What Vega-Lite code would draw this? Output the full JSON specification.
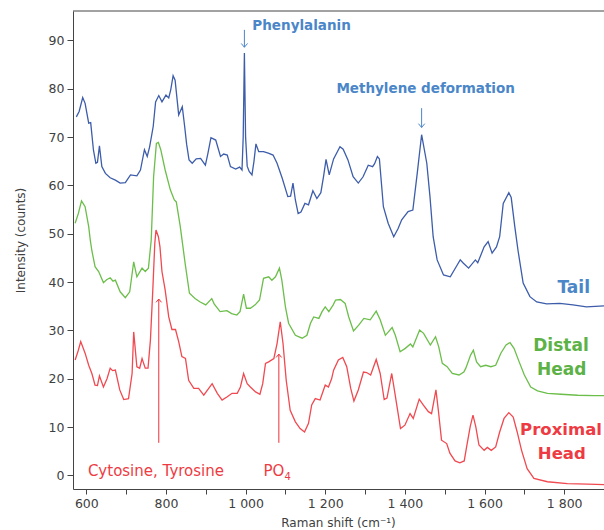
{
 "$schema": "https://vega.github.io/schema/vega-lite/v6.json",
 "width": 531,
 "height": 478,
 "autosize": "none",
 "padding": {"left": 73, "top": 11, "right": 0, "bottom": 41},
 "config": {"view": {"stroke": null}, "font": "DejaVu Sans"},
 "datasets": {
  "spectra": [
   {"s":"Tail","x":575,"y":74.2},{"s":"Tail","x":582,"y":75.3},{"s":"Tail","x":591,"y":78.2},{"s":"Tail","x":597,"y":77.0},{"s":"Tail","x":606,"y":72.9},{"s":"Tail","x":611,"y":73.0},{"s":"Tail","x":618,"y":67.3},{"s":"Tail","x":624,"y":64.6},{"s":"Tail","x":628,"y":64.8},{"s":"Tail","x":633,"y":68.2},{"s":"Tail","x":639,"y":63.9},{"s":"Tail","x":648,"y":62.5},{"s":"Tail","x":660,"y":61.6},{"s":"Tail","x":673,"y":61.1},{"s":"Tail","x":685,"y":60.5},{"s":"Tail","x":698,"y":60.6},{"s":"Tail","x":711,"y":62.2},{"s":"Tail","x":727,"y":62.0},{"s":"Tail","x":736,"y":63.2},{"s":"Tail","x":746,"y":67.4},{"s":"Tail","x":753,"y":66.0},{"s":"Tail","x":759,"y":68.0},{"s":"Tail","x":768,"y":72.2},{"s":"Tail","x":774,"y":77.3},{"s":"Tail","x":782,"y":78.6},{"s":"Tail","x":790,"y":77.3},{"s":"Tail","x":800,"y":78.7},{"s":"Tail","x":807,"y":78.1},{"s":"Tail","x":812,"y":79.8},{"s":"Tail","x":818,"y":82.7},{"s":"Tail","x":823,"y":81.8},{"s":"Tail","x":832,"y":74.6},{"s":"Tail","x":841,"y":76.3},{"s":"Tail","x":847,"y":72.2},{"s":"Tail","x":852,"y":68.5},{"s":"Tail","x":858,"y":65.3},{"s":"Tail","x":866,"y":64.6},{"s":"Tail","x":876,"y":65.5},{"s":"Tail","x":887,"y":65.6},{"s":"Tail","x":899,"y":64.2},{"s":"Tail","x":905,"y":66.5},{"s":"Tail","x":913,"y":69.9},{"s":"Tail","x":925,"y":69.4},{"s":"Tail","x":937,"y":66.0},{"s":"Tail","x":945,"y":66.5},{"s":"Tail","x":954,"y":66.3},{"s":"Tail","x":962,"y":63.9},{"s":"Tail","x":975,"y":63.4},{"s":"Tail","x":985,"y":63.8},{"s":"Tail","x":991,"y":63.2},{"s":"Tail","x":994,"y":70.0},{"s":"Tail","x":997,"y":87.4},{"s":"Tail","x":1000,"y":70.0},{"s":"Tail","x":1004,"y":64.0},{"s":"Tail","x":1009,"y":62.9},{"s":"Tail","x":1016,"y":62.2},{"s":"Tail","x":1021,"y":65.0},{"s":"Tail","x":1026,"y":68.6},{"s":"Tail","x":1033,"y":67.0},{"s":"Tail","x":1045,"y":67.0},{"s":"Tail","x":1057,"y":66.7},{"s":"Tail","x":1069,"y":66.3},{"s":"Tail","x":1079,"y":64.6},{"s":"Tail","x":1092,"y":61.5},{"s":"Tail","x":1106,"y":57.7},{"s":"Tail","x":1113,"y":57.8},{"s":"Tail","x":1119,"y":60.5},{"s":"Tail","x":1125,"y":57.0},{"s":"Tail","x":1132,"y":54.2},{"s":"Tail","x":1139,"y":54.5},{"s":"Tail","x":1149,"y":56.3},{"s":"Tail","x":1158,"y":56.0},{"s":"Tail","x":1169,"y":58.9},{"s":"Tail","x":1179,"y":57.3},{"s":"Tail","x":1189,"y":58.5},{"s":"Tail","x":1196,"y":62.0},{"s":"Tail","x":1202,"y":65.4},{"s":"Tail","x":1210,"y":62.2},{"s":"Tail","x":1221,"y":65.5},{"s":"Tail","x":1237,"y":68.0},{"s":"Tail","x":1245,"y":67.5},{"s":"Tail","x":1257,"y":65.3},{"s":"Tail","x":1270,"y":61.8},{"s":"Tail","x":1283,"y":60.5},{"s":"Tail","x":1295,"y":61.8},{"s":"Tail","x":1308,"y":64.2},{"s":"Tail","x":1319,"y":63.9},{"s":"Tail","x":1324,"y":64.5},{"s":"Tail","x":1331,"y":66.0},{"s":"Tail","x":1336,"y":65.5},{"s":"Tail","x":1346,"y":55.6},{"s":"Tail","x":1358,"y":52.2},{"s":"Tail","x":1372,"y":49.4},{"s":"Tail","x":1383,"y":51.1},{"s":"Tail","x":1392,"y":52.9},{"s":"Tail","x":1408,"y":54.6},{"s":"Tail","x":1420,"y":54.9},{"s":"Tail","x":1431,"y":62.5},{"s":"Tail","x":1442,"y":70.5},{"s":"Tail","x":1455,"y":64.6},{"s":"Tail","x":1463,"y":57.7},{"s":"Tail","x":1471,"y":49.4},{"s":"Tail","x":1481,"y":44.6},{"s":"Tail","x":1497,"y":41.5},{"s":"Tail","x":1514,"y":41.1},{"s":"Tail","x":1531,"y":43.5},{"s":"Tail","x":1539,"y":44.6},{"s":"Tail","x":1547,"y":43.9},{"s":"Tail","x":1560,"y":42.9},{"s":"Tail","x":1577,"y":44.6},{"s":"Tail","x":1583,"y":44.0},{"s":"Tail","x":1599,"y":47.3},{"s":"Tail","x":1609,"y":48.4},{"s":"Tail","x":1619,"y":46.0},{"s":"Tail","x":1630,"y":47.3},{"s":"Tail","x":1638,"y":49.4},{"s":"Tail","x":1647,"y":56.3},{"s":"Tail","x":1661,"y":58.5},{"s":"Tail","x":1667,"y":57.5},{"s":"Tail","x":1676,"y":51.5},{"s":"Tail","x":1684,"y":46.6},{"s":"Tail","x":1697,"y":39.8},{"s":"Tail","x":1714,"y":37.0},{"s":"Tail","x":1731,"y":35.9},{"s":"Tail","x":1756,"y":35.5},{"s":"Tail","x":1789,"y":35.6},{"s":"Tail","x":1822,"y":35.3},{"s":"Tail","x":1856,"y":34.9},{"s":"Tail","x":1900,"y":35.1},
   {"s":"Distal Head","x":572,"y":52.2},{"s":"Distal Head","x":580,"y":54.2},{"s":"Distal Head","x":588,"y":56.8},{"s":"Distal Head","x":597,"y":55.6},{"s":"Distal Head","x":606,"y":51.5},{"s":"Distal Head","x":610,"y":48.7},{"s":"Distal Head","x":614,"y":46.5},{"s":"Distal Head","x":622,"y":43.2},{"s":"Distal Head","x":631,"y":42.2},{"s":"Distal Head","x":643,"y":39.9},{"s":"Distal Head","x":651,"y":40.5},{"s":"Distal Head","x":660,"y":40.9},{"s":"Distal Head","x":667,"y":40.2},{"s":"Distal Head","x":673,"y":40.4},{"s":"Distal Head","x":685,"y":38.0},{"s":"Distal Head","x":698,"y":36.8},{"s":"Distal Head","x":709,"y":38.0},{"s":"Distal Head","x":719,"y":44.2},{"s":"Distal Head","x":727,"y":41.1},{"s":"Distal Head","x":740,"y":42.9},{"s":"Distal Head","x":748,"y":42.2},{"s":"Distal Head","x":756,"y":42.9},{"s":"Distal Head","x":763,"y":48.7},{"s":"Distal Head","x":769,"y":61.8},{"s":"Distal Head","x":776,"y":68.7},{"s":"Distal Head","x":781,"y":68.9},{"s":"Distal Head","x":787,"y":67.4},{"s":"Distal Head","x":798,"y":63.2},{"s":"Distal Head","x":811,"y":59.1},{"s":"Distal Head","x":821,"y":57.0},{"s":"Distal Head","x":826,"y":56.6},{"s":"Distal Head","x":836,"y":51.5},{"s":"Distal Head","x":848,"y":44.0},{"s":"Distal Head","x":859,"y":37.7},{"s":"Distal Head","x":873,"y":36.6},{"s":"Distal Head","x":886,"y":35.9},{"s":"Distal Head","x":900,"y":35.3},{"s":"Distal Head","x":915,"y":36.6},{"s":"Distal Head","x":921,"y":35.5},{"s":"Distal Head","x":936,"y":33.9},{"s":"Distal Head","x":953,"y":34.1},{"s":"Distal Head","x":965,"y":33.5},{"s":"Distal Head","x":978,"y":33.2},{"s":"Distal Head","x":986,"y":33.9},{"s":"Distal Head","x":995,"y":37.5},{"s":"Distal Head","x":1002,"y":34.6},{"s":"Distal Head","x":1012,"y":34.6},{"s":"Distal Head","x":1024,"y":35.3},{"s":"Distal Head","x":1035,"y":36.3},{"s":"Distal Head","x":1045,"y":40.8},{"s":"Distal Head","x":1058,"y":41.1},{"s":"Distal Head","x":1066,"y":40.4},{"s":"Distal Head","x":1075,"y":41.1},{"s":"Distal Head","x":1085,"y":42.9},{"s":"Distal Head","x":1091,"y":40.4},{"s":"Distal Head","x":1100,"y":34.9},{"s":"Distal Head","x":1108,"y":31.5},{"s":"Distal Head","x":1125,"y":29.0},{"s":"Distal Head","x":1142,"y":28.4},{"s":"Distal Head","x":1154,"y":29.0},{"s":"Distal Head","x":1163,"y":31.5},{"s":"Distal Head","x":1171,"y":32.8},{"s":"Distal Head","x":1184,"y":32.5},{"s":"Distal Head","x":1192,"y":33.9},{"s":"Distal Head","x":1200,"y":34.9},{"s":"Distal Head","x":1209,"y":33.9},{"s":"Distal Head","x":1220,"y":35.3},{"s":"Distal Head","x":1226,"y":36.3},{"s":"Distal Head","x":1238,"y":36.4},{"s":"Distal Head","x":1250,"y":35.6},{"s":"Distal Head","x":1259,"y":32.8},{"s":"Distal Head","x":1271,"y":29.9},{"s":"Distal Head","x":1284,"y":31.1},{"s":"Distal Head","x":1297,"y":32.5},{"s":"Distal Head","x":1313,"y":32.2},{"s":"Distal Head","x":1328,"y":34.0},{"s":"Distal Head","x":1338,"y":32.2},{"s":"Distal Head","x":1351,"y":29.0},{"s":"Distal Head","x":1368,"y":30.6},{"s":"Distal Head","x":1376,"y":29.0},{"s":"Distal Head","x":1388,"y":25.6},{"s":"Distal Head","x":1401,"y":26.3},{"s":"Distal Head","x":1414,"y":27.2},{"s":"Distal Head","x":1420,"y":26.6},{"s":"Distal Head","x":1437,"y":30.1},{"s":"Distal Head","x":1447,"y":29.4},{"s":"Distal Head","x":1464,"y":27.0},{"s":"Distal Head","x":1477,"y":28.7},{"s":"Distal Head","x":1485,"y":26.6},{"s":"Distal Head","x":1494,"y":23.2},{"s":"Distal Head","x":1506,"y":22.5},{"s":"Distal Head","x":1519,"y":21.1},{"s":"Distal Head","x":1536,"y":20.8},{"s":"Distal Head","x":1548,"y":21.4},{"s":"Distal Head","x":1553,"y":22.2},{"s":"Distal Head","x":1565,"y":24.9},{"s":"Distal Head","x":1572,"y":25.9},{"s":"Distal Head","x":1580,"y":23.5},{"s":"Distal Head","x":1590,"y":22.5},{"s":"Distal Head","x":1603,"y":22.8},{"s":"Distal Head","x":1616,"y":22.5},{"s":"Distal Head","x":1628,"y":22.8},{"s":"Distal Head","x":1641,"y":25.3},{"s":"Distal Head","x":1654,"y":27.0},{"s":"Distal Head","x":1664,"y":27.5},{"s":"Distal Head","x":1674,"y":26.3},{"s":"Distal Head","x":1687,"y":23.5},{"s":"Distal Head","x":1700,"y":20.8},{"s":"Distal Head","x":1716,"y":18.3},{"s":"Distal Head","x":1733,"y":17.5},{"s":"Distal Head","x":1758,"y":17.0},{"s":"Distal Head","x":1792,"y":16.8},{"s":"Distal Head","x":1834,"y":16.6},{"s":"Distal Head","x":1875,"y":16.5},{"s":"Distal Head","x":1900,"y":16.5},
   {"s":"Proximal Head","x":572,"y":23.9},{"s":"Proximal Head","x":580,"y":25.9},{"s":"Proximal Head","x":586,"y":27.7},{"s":"Proximal Head","x":597,"y":25.3},{"s":"Proximal Head","x":606,"y":22.8},{"s":"Proximal Head","x":614,"y":21.1},{"s":"Proximal Head","x":622,"y":18.7},{"s":"Proximal Head","x":628,"y":18.6},{"s":"Proximal Head","x":633,"y":20.6},{"s":"Proximal Head","x":643,"y":18.3},{"s":"Proximal Head","x":652,"y":20.0},{"s":"Proximal Head","x":660,"y":22.2},{"s":"Proximal Head","x":666,"y":21.7},{"s":"Proximal Head","x":673,"y":21.8},{"s":"Proximal Head","x":684,"y":17.7},{"s":"Proximal Head","x":694,"y":15.7},{"s":"Proximal Head","x":706,"y":15.9},{"s":"Proximal Head","x":715,"y":21.1},{"s":"Proximal Head","x":719,"y":29.7},{"s":"Proximal Head","x":727,"y":22.5},{"s":"Proximal Head","x":734,"y":22.2},{"s":"Proximal Head","x":740,"y":24.2},{"s":"Proximal Head","x":748,"y":22.2},{"s":"Proximal Head","x":755,"y":22.2},{"s":"Proximal Head","x":761,"y":28.0},{"s":"Proximal Head","x":767,"y":38.4},{"s":"Proximal Head","x":772,"y":48.0},{"s":"Proximal Head","x":775,"y":50.8},{"s":"Proximal Head","x":781,"y":49.4},{"s":"Proximal Head","x":785,"y":47.3},{"s":"Proximal Head","x":790,"y":42.2},{"s":"Proximal Head","x":798,"y":38.4},{"s":"Proximal Head","x":807,"y":32.8},{"s":"Proximal Head","x":815,"y":30.2},{"s":"Proximal Head","x":824,"y":30.2},{"s":"Proximal Head","x":832,"y":27.7},{"s":"Proximal Head","x":840,"y":24.6},{"s":"Proximal Head","x":849,"y":24.2},{"s":"Proximal Head","x":857,"y":19.7},{"s":"Proximal Head","x":870,"y":18.0},{"s":"Proximal Head","x":882,"y":18.0},{"s":"Proximal Head","x":895,"y":16.6},{"s":"Proximal Head","x":916,"y":19.0},{"s":"Proximal Head","x":929,"y":17.0},{"s":"Proximal Head","x":941,"y":15.6},{"s":"Proximal Head","x":954,"y":16.3},{"s":"Proximal Head","x":966,"y":17.0},{"s":"Proximal Head","x":979,"y":17.0},{"s":"Proximal Head","x":987,"y":18.3},{"s":"Proximal Head","x":995,"y":21.1},{"s":"Proximal Head","x":1004,"y":19.0},{"s":"Proximal Head","x":1012,"y":18.3},{"s":"Proximal Head","x":1025,"y":17.3},{"s":"Proximal Head","x":1036,"y":16.8},{"s":"Proximal Head","x":1043,"y":19.0},{"s":"Proximal Head","x":1050,"y":23.2},{"s":"Proximal Head","x":1058,"y":23.5},{"s":"Proximal Head","x":1071,"y":24.2},{"s":"Proximal Head","x":1079,"y":27.3},{"s":"Proximal Head","x":1087,"y":31.8},{"s":"Proximal Head","x":1094,"y":27.3},{"s":"Proximal Head","x":1102,"y":19.7},{"s":"Proximal Head","x":1112,"y":13.5},{"s":"Proximal Head","x":1125,"y":11.1},{"s":"Proximal Head","x":1137,"y":9.7},{"s":"Proximal Head","x":1148,"y":9.0},{"s":"Proximal Head","x":1158,"y":10.8},{"s":"Proximal Head","x":1166,"y":14.6},{"s":"Proximal Head","x":1175,"y":15.9},{"s":"Proximal Head","x":1187,"y":15.6},{"s":"Proximal Head","x":1200,"y":18.7},{"s":"Proximal Head","x":1208,"y":18.3},{"s":"Proximal Head","x":1216,"y":20.0},{"s":"Proximal Head","x":1221,"y":21.8},{"s":"Proximal Head","x":1233,"y":23.9},{"s":"Proximal Head","x":1244,"y":24.4},{"s":"Proximal Head","x":1254,"y":22.5},{"s":"Proximal Head","x":1264,"y":18.0},{"s":"Proximal Head","x":1272,"y":15.4},{"s":"Proximal Head","x":1283,"y":17.7},{"s":"Proximal Head","x":1296,"y":21.4},{"s":"Proximal Head","x":1304,"y":21.3},{"s":"Proximal Head","x":1314,"y":20.8},{"s":"Proximal Head","x":1328,"y":24.0},{"s":"Proximal Head","x":1338,"y":21.1},{"s":"Proximal Head","x":1348,"y":15.7},{"s":"Proximal Head","x":1355,"y":16.0},{"s":"Proximal Head","x":1367,"y":21.1},{"s":"Proximal Head","x":1375,"y":17.0},{"s":"Proximal Head","x":1389,"y":9.7},{"s":"Proximal Head","x":1400,"y":10.4},{"s":"Proximal Head","x":1413,"y":12.8},{"s":"Proximal Head","x":1421,"y":11.8},{"s":"Proximal Head","x":1436,"y":15.8},{"s":"Proximal Head","x":1446,"y":14.6},{"s":"Proximal Head","x":1459,"y":13.2},{"s":"Proximal Head","x":1467,"y":12.8},{"s":"Proximal Head","x":1478,"y":17.7},{"s":"Proximal Head","x":1484,"y":13.5},{"s":"Proximal Head","x":1492,"y":7.3},{"s":"Proximal Head","x":1505,"y":6.6},{"s":"Proximal Head","x":1513,"y":4.6},{"s":"Proximal Head","x":1526,"y":3.0},{"s":"Proximal Head","x":1538,"y":2.6},{"s":"Proximal Head","x":1549,"y":3.0},{"s":"Proximal Head","x":1555,"y":5.9},{"s":"Proximal Head","x":1564,"y":10.1},{"s":"Proximal Head","x":1571,"y":12.5},{"s":"Proximal Head","x":1578,"y":10.1},{"s":"Proximal Head","x":1586,"y":6.3},{"s":"Proximal Head","x":1599,"y":5.2},{"s":"Proximal Head","x":1607,"y":5.8},{"s":"Proximal Head","x":1617,"y":5.2},{"s":"Proximal Head","x":1628,"y":5.9},{"s":"Proximal Head","x":1638,"y":9.0},{"s":"Proximal Head","x":1649,"y":11.8},{"s":"Proximal Head","x":1661,"y":13.0},{"s":"Proximal Head","x":1672,"y":12.1},{"s":"Proximal Head","x":1682,"y":9.0},{"s":"Proximal Head","x":1693,"y":5.2},{"s":"Proximal Head","x":1707,"y":1.4},{"s":"Proximal Head","x":1724,"y":-0.6},{"s":"Proximal Head","x":1758,"y":-1.3},{"s":"Proximal Head","x":1808,"y":-1.7},{"s":"Proximal Head","x":1859,"y":-1.8},{"s":"Proximal Head","x":1900,"y":-1.9}
  ]
 },
 "layer": [
  {
   "data": {"name": "spectra"},
   "mark": {"type": "line", "strokeWidth": 1.3, "clip": true},
   "encoding": {
    "x": {"field": "x", "type": "quantitative",
     "scale": {"domain": [566.6, 1900], "nice": false, "zero": false},
     "axis": {"values": [600,700,800,900,1000,1100,1200,1300,1400,1500,1600,1700,1800],
      "labelExpr": "datum.value % 200 == 0 ? replace(format(datum.value, ','), ',', ' ') : ''",
      "title": "Raman shift (cm⁻¹)", "grid": false, "domainColor": "#444", "tickColor": "#444", "tickSize": 5,
      "labelFont": "DejaVu Sans", "labelFontSize": 12.5, "labelColor": "#404040", "labelPadding": 3, "labelOverlap": false, "labelBound": false, "labelFlush": false,
      "titleFont": "DejaVu Sans", "titleFontSize": 12, "titleFontWeight": "normal", "titleColor": "#404040",
      "titleX": 265, "titleY": 33, "titleBaseline": "middle", "titleAlign": "center"}},
    "y": {"field": "y", "type": "quantitative",
     "scale": {"domain": [-2.8, 96.1], "nice": false, "zero": false},
     "axis": {"values": [0,5,10,15,20,25,30,35,40,45,50,55,60,65,70,75,80,85,90,95],
      "labelExpr": "datum.value % 10 == 0 ? datum.label : ''",
      "title": "Intensity (counts)", "grid": false, "domainColor": "#444", "tickColor": "#444", "tickSize": 6,
      "labelFont": "DejaVu Sans", "labelFontSize": 12.5, "labelColor": "#404040", "labelPadding": 3, "labelOverlap": false,
      "titleFont": "DejaVu Sans", "titleFontSize": 12, "titleFontWeight": "normal", "titleColor": "#404040",
      "titleX": -53, "titleY": 229, "titleAngle": -90, "titleBaseline": "middle", "titleAlign": "center"}},
    "color": {"field": "s", "type": "nominal",
     "scale": {"domain": ["Tail", "Distal Head", "Proximal Head"], "range": ["#3D5DAA", "#6CBE4B", "#F04950"]},
     "legend": null}
   }
  },
  {"data": {"values": [{}]}, "mark": {"type": "rule", "color": "#444", "strokeWidth": 1}, "encoding": {"y": {"datum": 96.1}}},
  {"data": {"values": [{}]}, "mark": {"type": "text", "align": "left", "baseline": "middle", "font": "DejaVu Sans", "fontWeight": "bold", "fontSize": 13.5, "color": "#4A86C8"}, "encoding": {"x": {"datum": 1017}, "y": {"datum": 93}, "text": {"value": "Phenylalanin"}}},
  {"data": {"values": [{}]}, "mark": {"type": "text", "align": "left", "baseline": "middle", "font": "DejaVu Sans", "fontWeight": "bold", "fontSize": 13.5, "color": "#4A86C8"}, "encoding": {"x": {"datum": 1228}, "y": {"datum": 80}, "text": {"value": "Methylene deformation"}}},
  {"data": {"values": [{}]}, "mark": {"type": "rule", "color": "#4A86C8", "strokeWidth": 1}, "encoding": {"x": {"datum": 997}, "y": {"datum": 92.2}, "y2": {"datum": 88.6}}},
  {"data": {"values": [{}]}, "mark": {"type": "point", "shape": "M-1,-1.2L0,0L1,-1.2", "size": 40, "filled": false, "strokeWidth": 1, "color": "#4A86C8", "opacity": 1}, "encoding": {"x": {"datum": 997}, "y": {"datum": 88.6}}},
  {"data": {"values": [{}]}, "mark": {"type": "rule", "color": "#4A86C8", "strokeWidth": 1}, "encoding": {"x": {"datum": 1442}, "y": {"datum": 76.0}, "y2": {"datum": 72.0}}},
  {"data": {"values": [{}]}, "mark": {"type": "point", "shape": "M-1,-1.2L0,0L1,-1.2", "size": 40, "filled": false, "strokeWidth": 1, "color": "#4A86C8", "opacity": 1}, "encoding": {"x": {"datum": 1442}, "y": {"datum": 72.0}}},
  {"data": {"values": [{}]}, "mark": {"type": "rule", "color": "#F03038", "strokeWidth": 1}, "encoding": {"x": {"datum": 782}, "y": {"datum": 6.75}, "y2": {"datum": 36.5}}},
  {"data": {"values": [{}]}, "mark": {"type": "point", "shape": "M-1,1.2L0,0L1,1.2", "size": 30, "filled": false, "strokeWidth": 1, "color": "#F03038", "opacity": 1}, "encoding": {"x": {"datum": 782}, "y": {"datum": 36.5}}},
  {"data": {"values": [{}]}, "mark": {"type": "rule", "color": "#F03038", "strokeWidth": 1}, "encoding": {"x": {"datum": 1083.5}, "y": {"datum": 6.75}, "y2": {"datum": 25.1}}},
  {"data": {"values": [{}]}, "mark": {"type": "point", "shape": "M-1,1.2L0,0L1,1.2", "size": 30, "filled": false, "strokeWidth": 1, "color": "#F03038", "opacity": 1}, "encoding": {"x": {"datum": 1083.5}, "y": {"datum": 25.1}}},
  {"data": {"values": [{}]}, "mark": {"type": "text", "align": "left", "baseline": "middle", "font": "DejaVu Sans", "fontSize": 15, "color": "#EE3B43"}, "encoding": {"x": {"datum": 604}, "y": {"datum": 0.9}, "text": {"value": "Cytosine, Tyrosine"}}},
  {"data": {"values": [{}]}, "mark": {"type": "text", "align": "left", "baseline": "middle", "font": "DejaVu Sans", "fontSize": 15, "color": "#EE3B43"}, "encoding": {"x": {"datum": 1045}, "y": {"datum": 0.9}, "text": {"value": "PO"}}},
  {"data": {"values": [{}]}, "mark": {"type": "text", "align": "left", "baseline": "middle", "font": "DejaVu Sans", "fontSize": 10, "color": "#EE3B43"}, "encoding": {"x": {"datum": 1098}, "y": {"datum": -0.4}, "text": {"value": "4"}}},
  {"data": {"values": [{}]}, "mark": {"type": "text", "align": "center", "baseline": "middle", "font": "DejaVu Sans", "fontWeight": "bold", "fontSize": 17, "color": "#4A86C8"}, "encoding": {"x": {"datum": 1824}, "y": {"datum": 38.8}, "text": {"value": "Tail"}}},
  {"data": {"values": [{}]}, "mark": {"type": "text", "align": "center", "baseline": "middle", "font": "DejaVu Sans", "fontWeight": "bold", "fontSize": 17, "color": "#5CB246"}, "encoding": {"x": {"datum": 1792}, "y": {"datum": 26.8}, "text": {"value": "Distal"}}},
  {"data": {"values": [{}]}, "mark": {"type": "text", "align": "center", "baseline": "middle", "font": "DejaVu Sans", "fontWeight": "bold", "fontSize": 17, "color": "#5CB246"}, "encoding": {"x": {"datum": 1794}, "y": {"datum": 21.8}, "text": {"value": "Head"}}},
  {"data": {"values": [{}]}, "mark": {"type": "text", "align": "center", "baseline": "middle", "font": "DejaVu Sans", "fontWeight": "bold", "fontSize": 16.5, "color": "#EE3B43"}, "encoding": {"x": {"datum": 1792}, "y": {"datum": 9.4}, "text": {"value": "Proximal"}}},
  {"data": {"values": [{}]}, "mark": {"type": "text", "align": "center", "baseline": "middle", "font": "DejaVu Sans", "fontWeight": "bold", "fontSize": 16.5, "color": "#EE3B43"}, "encoding": {"x": {"datum": 1794}, "y": {"datum": 4.4}, "text": {"value": "Head"}}}
]
}
